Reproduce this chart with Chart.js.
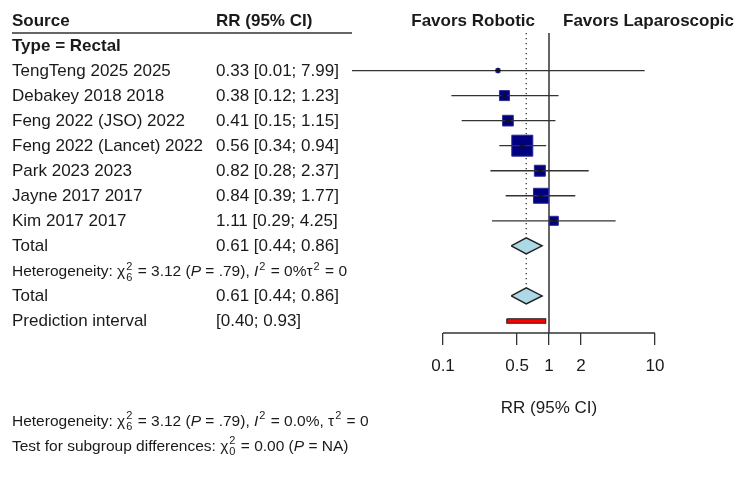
<!DOCTYPE html>
<html>
<head>
<meta charset="utf-8">
<script src="https://cdn.jsdelivr.net/npm/chart.js@4.4.1/dist/chart.umd.min.js"></script>
<style>
  html, body { margin: 0; padding: 0; background: #fff; }
</style>
</head>
<body>
<canvas id="chart" width="750" height="478"></canvas>
<script>
// Study level data (rows 1..7 of the plot)
const STUDIES = [
  'TengTeng 2025 2025',
  'Debakey 2018 2018',
  'Feng 2022 (JSO) 2022',
  'Feng 2022 (Lancet) 2022',
  'Park 2023 2023',
  'Jayne 2017 2017',
  'Kim 2017 2017'
];
const RR = [0.33, 0.38, 0.41, 0.56, 0.82, 0.84, 1.11];
const LOWER = [0.01, 0.12, 0.15, 0.34, 0.28, 0.39, 0.29];
const UPPER = [7.99, 1.23, 1.15, 0.94, 2.37, 1.77, 4.25];
const WEIGHTS = [1.5, 9.1, 10.4, 40.2, 11.0, 20.5, 7.4];

// Pooled results: estimate, lower, upper
const TOTAL = [0.61, 0.44, 0.86];
const PREDICTION = [0.40, 0.93];

const TICKS = [0.1, 0.5, 1, 2, 10];
const TICK_LABELS = ['0.1', '0.5', '1', '2', '10'];

const FONT = '"Liberation Sans", Arial, sans-serif';
const INK = '#1a1a1a';
const LINE = '#333333';

// row layout: -1 header, 0 subgroup, 1..7 studies, 8 total, 9 heterogeneity, 10 total, 11 prediction
const ROW_TOTAL = 8, ROW_HET = 9, ROW_TOTAL2 = 10, ROW_PRED = 11;
const Y_MIN = -0.5, Y_MAX = 11.48;
const DIAMOND_H = 0.32;
const PRED_H = 0.09;

const ciText = (e, l, u) => `${e.toFixed(2)} [${l.toFixed(2)}; ${u.toFixed(2)}]`;

const HET_TABLE = [
  { t: 'Heterogeneity: \u03c7' }, { sup: '2', sub: '6' }, { t: ' = 3.12 (' }, { t: 'P', i: true },
  { t: ' = .79), ' }, { t: 'I', i: true }, { sup: '2' }, { t: ' = 0%\u03c4' }, { sup: '2' }, { t: ' = 0' }
];
const HET_FOOT = [
  { t: 'Heterogeneity: \u03c7' }, { sup: '2', sub: '6' }, { t: ' = 3.12 (' }, { t: 'P', i: true },
  { t: ' = .79), ' }, { t: 'I', i: true }, { sup: '2' }, { t: ' = 0.0%, \u03c4' }, { sup: '2' }, { t: ' = 0' }
];
const SUBGROUP_FOOT = [
  { t: 'Test for subgroup differences: \u03c7' }, { sup: '2', sub: '0' }, { t: ' = 0.00 (' },
  { t: 'P', i: true }, { t: ' = NA)' }
];

function drawRich(ctx, parts, x, y, size) {
  for (const p of parts) {
    if (p.sup !== undefined || p.sub !== undefined) {
      ctx.font = `${Math.round(size * 0.68)}px ${FONT}`;
      let w = 0;
      if (p.sup) { ctx.fillText(p.sup, x + 1, y - size * 0.42); w = ctx.measureText(p.sup).width; }
      if (p.sub) { ctx.fillText(p.sub, x + 1, y + size * 0.28); w = Math.max(w, ctx.measureText(p.sub).width); }
      x += w + 2;
    } else {
      ctx.font = `${p.i ? 'italic ' : ''}${size}px ${FONT}`;
      ctx.fillText(p.t, x, y);
      x += ctx.measureText(p.t).width;
    }
  }
}

const diamond = (est, lo, hi, row) => [
  { x: lo, y: row }, { x: est, y: row - DIAMOND_H }, { x: hi, y: row },
  { x: est, y: row + DIAMOND_H }, { x: lo, y: row }
];

const segment = (x1, y1, x2, y2) => [{ x: x1, y: y1 }, { x: x2, y: y2 }];

const maxW = Math.max(...WEIGHTS);

const datasets = [
  // reference line at 1
  { data: segment(1, Y_MIN, 1, Y_MAX), borderColor: LINE, borderWidth: 1.5, order: 10 },
  // dotted pooled estimate line
  { data: segment(TOTAL[0], Y_MIN, TOTAL[0], ROW_TOTAL2), borderColor: LINE, borderWidth: 1.3, borderDash: [1.3, 3.7], order: 9 },
  // axis line
  { data: segment(TICKS[0], Y_MAX, TICKS[TICKS.length - 1], Y_MAX), borderColor: LINE, borderWidth: 1.5, clip: false, order: 9 },
  // study squares
  {
    showLine: false,
    data: RR.map((v, i) => ({ x: v, y: i + 1 })),
    pointStyle: 'rect',
    pointRadius: WEIGHTS.map(w => Math.sqrt(w / maxW) * 21 / Math.SQRT2),
    backgroundColor: '#000080',
    borderColor: '#2a2a9a',
    borderWidth: 1,
    order: 5
  },
  // confidence intervals
  ...STUDIES.map((s, i) => ({
    data: segment(LOWER[i], i + 1, UPPER[i], i + 1),
    borderColor: LINE, borderWidth: 1.3, order: 4
  })),
  // centre marks
  {
    showLine: false,
    data: RR.map((v, i) => ({ x: v, y: i + 1 })),
    pointStyle: 'cross', pointRadius: 3, borderColor: '#111', borderWidth: 1, order: 3
  },
  // pooled diamonds
  { data: diamond(TOTAL[0], TOTAL[1], TOTAL[2], ROW_TOTAL), fill: 'shape', backgroundColor: '#add8e6', borderColor: '#222', borderWidth: 1.5, order: 1 },
  { data: diamond(TOTAL[0], TOTAL[1], TOTAL[2], ROW_TOTAL2), fill: 'shape', backgroundColor: '#add8e6', borderColor: '#222', borderWidth: 1.5, order: 1 },
  // prediction interval
  {
    data: [
      { x: PREDICTION[0], y: ROW_PRED - PRED_H }, { x: PREDICTION[1], y: ROW_PRED - PRED_H },
      { x: PREDICTION[1], y: ROW_PRED + PRED_H }, { x: PREDICTION[0], y: ROW_PRED + PRED_H },
      { x: PREDICTION[0], y: ROW_PRED - PRED_H }
    ],
    fill: 'shape', backgroundColor: '#ff0000', borderColor: '#222', borderWidth: 1.2, order: 1
  }
].map(d => Object.assign({ showLine: true, pointRadius: 0, tension: 0 }, d));

// text columns drawn against the y scale
const tablePlugin = {
  id: 'forestTable',
  afterDraw(chart) {
    const { ctx, scales: { x, y } } = chart;
    const base = r => y.getPixelForValue(r) + 5.5;
    const col1 = 12, col2 = 216;
    ctx.save();
    ctx.fillStyle = INK;
    ctx.textBaseline = 'alphabetic';

    ctx.font = `bold 17px ${FONT}`;
    ctx.fillText('Source', col1, base(-1));
    ctx.fillText('RR (95% CI)', col2, base(-1));
    ctx.fillText('Type = Rectal', col1, base(0));
    const ref = x.getPixelForValue(1);
    ctx.textAlign = 'right';
    ctx.fillText('Favors Robotic', ref - 14, base(-1));
    ctx.textAlign = 'left';
    ctx.fillText('Favors Laparoscopic', ref + 14, base(-1));

    ctx.strokeStyle = LINE;
    ctx.lineWidth = 1.3;
    ctx.beginPath();
    ctx.moveTo(col1, y.getPixelForValue(-0.5));
    ctx.lineTo(352, y.getPixelForValue(-0.5));
    ctx.stroke();

    ctx.font = `17px ${FONT}`;
    STUDIES.forEach((s, i) => {
      ctx.fillText(s, col1, base(i + 1));
      ctx.fillText(ciText(RR[i], LOWER[i], UPPER[i]), col2, base(i + 1));
    });
    ctx.fillText('Total', col1, base(ROW_TOTAL));
    ctx.fillText(ciText(TOTAL[0], TOTAL[1], TOTAL[2]), col2, base(ROW_TOTAL));
    ctx.fillText('Total', col1, base(ROW_TOTAL2));
    ctx.fillText(ciText(TOTAL[0], TOTAL[1], TOTAL[2]), col2, base(ROW_TOTAL2));
    ctx.fillText('Prediction interval', col1, base(ROW_PRED));
    ctx.fillText(`[${PREDICTION[0].toFixed(2)}; ${PREDICTION[1].toFixed(2)}]`, col2, base(ROW_PRED));

    drawRich(ctx, HET_TABLE, col1, base(ROW_HET), 15.5);
    drawRich(ctx, HET_FOOT, col1, 426, 15.5);
    drawRich(ctx, SUBGROUP_FOOT, col1, 451, 15.5);
    ctx.restore();
  }
};

new Chart(document.getElementById('chart'), {
  type: 'scatter',
  data: { datasets },
  options: {
    responsive: false,
    animation: false,
    devicePixelRatio: 1,
    layout: { autoPadding: false, padding: { left: 352, right: 4, top: 33, bottom: 0 } },
    plugins: { legend: { display: false }, tooltip: { enabled: false } },
    scales: {
      x: {
        type: 'logarithmic',
        min: Math.pow(10, -197 / 106),
        max: Math.pow(10, 197 / 106),
        afterBuildTicks: s => { s.ticks = TICKS.map(v => ({ value: v })); },
        afterFit: s => { s.height = 145; s.paddingLeft = 0; s.paddingRight = 0; },
        ticks: {
          autoSkip: false, maxRotation: 0, padding: 11, color: INK,
          font: { family: FONT, size: 17 },
          callback: v => TICK_LABELS[TICKS.indexOf(v)]
        },
        grid: { drawOnChartArea: false, drawTicks: true, tickLength: 12, color: LINE, lineWidth: 1.3 },
        border: { display: false },
        title: { display: true, text: 'RR (95% CI)', color: INK, font: { family: FONT, size: 17 }, padding: { top: 0, bottom: 59 } }
      },
      y: { type: 'linear', min: Y_MIN, max: Y_MAX, reverse: true, display: false }
    }
  },
  plugins: [tablePlugin]
});
</script>
</body>
</html>
